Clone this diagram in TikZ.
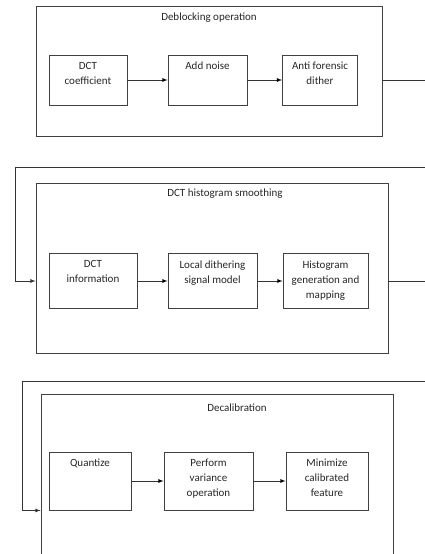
\documentclass[tikz,border=0pt]{standalone}
\usepackage{fontspec}
\setmainfont{Carlito}
\usetikzlibrary{arrows}

\begin{document}
\begin{tikzpicture}[x=1pt, y=-1pt, >=latex,
    every node/.style={font=\fontsize{11}{15}\selectfont, text=black!85},
    frame/.style={draw=black!75, line width=0.9pt, inner sep=0pt},
    block/.style={draw=black!75, line width=0.9pt, inner sep=0pt},
    blocktext/.style={anchor=north, align=center, inner sep=7.5pt},
    wire/.style={draw=black!80, line width=0.8pt}]
    \useasboundingbox (0,0) rectangle (425,554);
    \clip (0,0) rectangle (425,554);

    % stage one
    \node at (209, 71) [frame, minimum width=346pt, minimum height=130pt] (deblock) {};
    \node at (209, 18) (title1) {Deblocking operation};
    \node at (88, 80) [block, minimum width=78pt, minimum height=50pt,
        label={[blocktext]north:DCT\\coefficient}] (coef) {};
    \node at (207.5, 80) [block, minimum width=79pt, minimum height=50pt,
        label={[blocktext]north:Add noise}] (noise) {};
    \node at (320, 80) [block, minimum width=75pt, minimum height=50pt,
        label={[blocktext]north:Anti forensic\\dither}] (dither) {};
    \coordinate (out1) at (425, 80);

    % stage two
    \node at (212, 268) [frame, minimum width=352pt, minimum height=170pt] (smooth) {};
    \node at (225, 194) (title2) {DCT histogram smoothing};
    \node at (93, 281) [block, minimum width=88pt, minimum height=55pt,
        label={[blocktext]north:DCT\\information}] (info) {};
    \node at (212.5, 281) [block, minimum width=89pt, minimum height=55pt,
        label={[blocktext]north:Local dithering\\signal model}] (local) {};
    \node at (325.5, 281) [block, minimum width=85pt, minimum height=55pt,
        label={[blocktext]north:Histogram\\generation and\\mapping}] (hist) {};
    \coordinate (back1) at (425, 167);
    \coordinate (turn1) at (15, 167);
    \coordinate (out2) at (425, 281);

    % stage three
    \node at (217, 497) [frame, minimum width=352pt, minimum height=206pt] (decal) {};
    \node at (237, 408) (title3) {Decalibration};
    \node at (90, 481) [block, minimum width=82pt, minimum height=58pt,
        label={[blocktext]north:Quantize}] (quant) {};
    \node at (208.5, 481) [block, minimum width=89pt, minimum height=58pt,
        label={[blocktext]north:Perform\\variance\\operation}] (perform) {};
    \node at (327, 481) [block, minimum width=82pt, minimum height=58pt,
        label={[blocktext]north:Minimize\\calibrated\\feature}] (minim) {};
    \coordinate (back2) at (425, 381);
    \coordinate (turn2) at (22, 381);

    \path [->, wire]
        (coef) edge (noise)
        (noise) edge (dither)
        (info) edge (local)
        (local) edge (hist)
        (quant) edge (perform)
        (perform) edge (minim);
    \draw [wire] (dither -| deblock.east) -- (out1);
    \draw [wire] (hist -| smooth.east) -- (out2);
    \draw [->, wire] (back1) -- (turn1) |- (smooth.west |- info);
    \draw [->, wire] (back2) -- (turn2) |- (decal.west |- quant.south);
\end{tikzpicture}
\end{document}
